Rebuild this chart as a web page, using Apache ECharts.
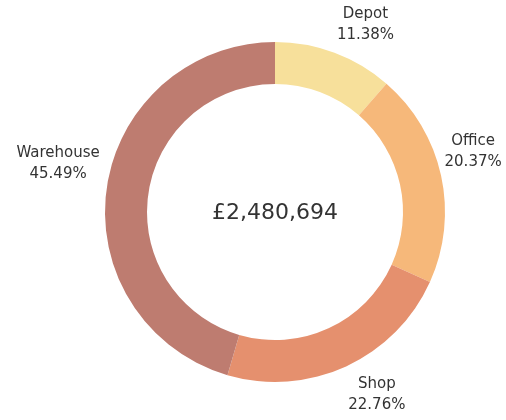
<!DOCTYPE html>
<html>
<head>
<meta charset="utf-8">
<script src="https://cdn.jsdelivr.net/npm/echarts@6/dist/echarts.min.js"></script>
<style>
  html, body { margin: 0; padding: 0; background: #fff; }
  #main { width: 506px; height: 420px; }
</style>
</head>
<body>
<div id="main"></div>
<script>
// sites and their sales (GBP), clockwise from 12 o'clock
const sites = ['Depot', 'Office', 'Shop', 'Warehouse'];
const sales = [282303, 505317, 564606, 1128468];
const siteColors = ['#f7e09b', '#f6b87a', '#e5906e', '#be7c70'];

const total = sales.reduce((a, b) => a + b, 0);
const totalText = '£' + total.toLocaleString('en-GB');

// small nudges so the labels sit where the original tool put them
const labelNudge = [[17, 9], [-7, -15], [14, -8], [-9, -19]];

const ringData = sites.map((name, i) => ({ name: name, value: sales[i] }));
const labelData = sites.map((name, i) => ({
    name: name,
    value: sales[i],
    label: { offset: labelNudge[i] }
}));

let myChart = echarts.init(document.getElementById('main'));
let option = {
    animation: false,
    color: siteColors,
    graphic: [
        {
            type: 'text',
            x: 275,
            y: 213,
            style: {
                text: totalText,
                align: 'center',
                verticalAlign: 'middle',
                font: '22px "DejaVu Sans"',
                fill: '#333'
            }
        }
    ],
    series: [
        {
            // the ring itself
            type: 'pie',
            center: [275, 212],
            radius: [128, 170],
            startAngle: 90,
            clockwise: true,
            silent: true,
            label: { show: false },
            labelLine: { show: false },
            data: ringData
        },
        {
            // invisible ring, only used to carry the centred labels
            type: 'pie',
            center: [275, 212],
            radius: [188, 226],
            startAngle: 90,
            clockwise: true,
            silent: true,
            itemStyle: { color: 'rgba(0,0,0,0)' },
            label: {
                show: true,
                position: 'inside',
                formatter: '{b}\n{d}%',
                fontFamily: 'DejaVu Sans',
                fontSize: 15,
                lineHeight: 21,
                color: '#333'
            },
            labelLine: { show: false },
            data: labelData
        }
    ]
};
myChart.setOption(option);
</script>
</body>
</html>
